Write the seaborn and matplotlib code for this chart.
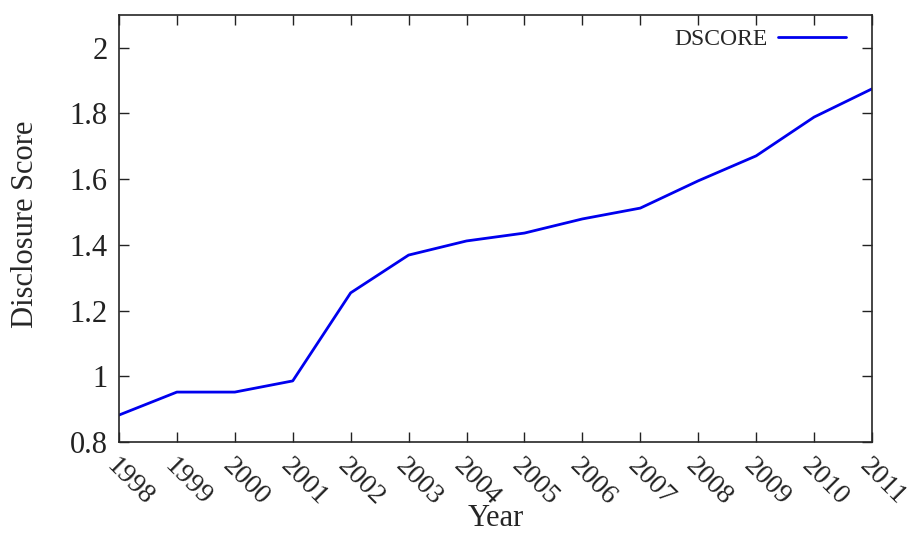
import pandas as pd
import matplotlib.pyplot as plt
import seaborn as sns

# --- DATA ---
years = [1998, 1999, 2000, 2001, 2002, 2003, 2004, 2005, 2006, 2007, 2008, 2009, 2010, 2011]
dscore = [0.882, 0.952, 0.952, 0.986, 1.254, 1.369, 1.412, 1.436, 1.479, 1.512, 1.595, 1.671, 1.789, 1.875]
y_ticks = [0.8, 1.0, 1.2, 1.4, 1.6, 1.8, 2.0]
y_tick_labels = ["0.8", "1", "1.2", "1.4", "1.6", "1.8", "2"]

df = pd.DataFrame({"Year": years, "DSCORE": dscore})

sns.set_style("ticks")
plt.rcParams['font.family'] = ['Liberation Serif', 'DejaVu Serif']

fig, ax = plt.subplots(figsize=(9.15, 5.33), dpi=100)

sns.lineplot(data=df, x="Year", y="DSCORE", color="#0000ee", linewidth=2,
             label="DSCORE", ax=ax)

ax.set_xlim(1998, 2011)
ax.set_ylim(0.8, 2.1)
ax.set_xticks(years)
ax.set_xticklabels([str(y) for y in years], rotation=-45, ha="left", va="top",
                   rotation_mode="anchor", fontsize=20)
ax.set_yticks(y_ticks)
ax.set_yticklabels(y_tick_labels, fontsize=22)
ax.tick_params(direction="in", top=True, right=True, length=7, width=1, pad=8,
               colors="#222222")
for s in ax.spines.values():
    s.set_linewidth(1.2)

ax.set_xlabel("Year", fontsize=22)
ax.xaxis.set_label_coords(0.5, -0.144)
ax.set_ylabel("Disclosure Score", fontsize=22)
ax.yaxis.set_label_coords(-0.105, 0.51)

leg = ax.legend(loc="upper right", frameon=False, markerfirst=False,
                fontsize=17, handlelength=2.9, handletextpad=0.45,
                bbox_to_anchor=(0.994, 1.018))

plt.subplots_adjust(left=0.13, right=0.953, top=0.972, bottom=0.1707)
plt.savefig("out.png", dpi=100)
